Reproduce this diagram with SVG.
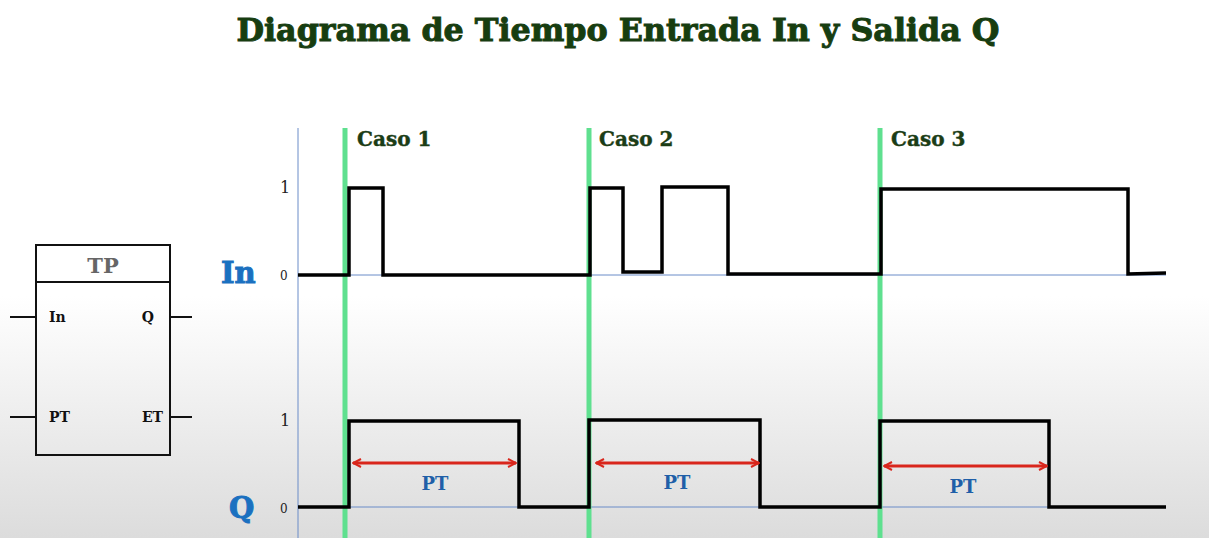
<svg xmlns="http://www.w3.org/2000/svg" width="1209" height="538" viewBox="0 0 1209 538">
<defs>
<linearGradient id="bg" x1="0" y1="0" x2="0" y2="538" gradientUnits="userSpaceOnUse">
<stop offset="0" stop-color="#ffffff"/>
<stop offset="0.55" stop-color="#ffffff"/>
<stop offset="1" stop-color="#dcdcdc"/>
</linearGradient>
<marker id="ah" viewBox="0 0 10 10" refX="9" refY="5" markerWidth="10" markerHeight="10" markerUnits="userSpaceOnUse" orient="auto-start-reverse">
<path d="M1,1 L9,5 L1,9" fill="none" stroke="#d9261c" stroke-width="2"/>
</marker>
<style>
.sig{fill:none;stroke:#000;stroke-width:3.5;stroke-linejoin:miter}
.base{stroke:#6a8cc8;stroke-width:1}
.green{stroke:#5fe08f;stroke-width:5}
.pt{stroke:#d9261c;stroke-width:3}
.serif{font-family:"DejaVu Serif","Liberation Serif",serif;font-weight:bold}
.caso{font-size:20px;fill:#1b3d16;stroke:#1b3d16;stroke-width:0.4}
.lvl{font-family:"DejaVu Serif","Liberation Serif",serif;fill:#222}
.ptl{font-size:18px;fill:#1f5fa8}
.big{font-size:29px;fill:#1a70c0;stroke:#1a70c0;stroke-width:1}
.pin{font-size:14px;fill:#111}
.box{fill:none;stroke:#111;stroke-width:2}
</style>
</defs>
<rect x="0" y="0" width="1209" height="538" fill="url(#bg)"/>
<text class="serif" x="618" y="41" text-anchor="middle" font-size="32" fill="#173d10" stroke="#173d10" stroke-width="1" textLength="763" lengthAdjust="spacingAndGlyphs">Diagrama de Tiempo Entrada In y Salida Q</text>

<g id="tp-block">
<rect class="box" x="36" y="245" width="134" height="210"/>
<line class="box" x1="36" y1="282" x2="170" y2="282"/>
<text class="serif" x="103" y="273" text-anchor="middle" font-size="21" fill="#666">TP</text>
<line class="box" x1="10" y1="317" x2="36" y2="317"/>
<line class="box" x1="170" y1="317" x2="192" y2="317"/>
<line class="box" x1="10" y1="417" x2="36" y2="417"/>
<line class="box" x1="170" y1="417" x2="192" y2="417"/>
<text class="serif pin" x="49" y="322">In</text>
<text class="serif pin" x="154" y="322" text-anchor="end">Q</text>
<text class="serif pin" x="49" y="422">PT</text>
<text class="serif pin" x="163" y="422" text-anchor="end">ET</text>
</g>

<g id="axes">
<line class="base" x1="298" y1="128" x2="298" y2="538"/>
<line class="base" x1="298" y1="275" x2="1166" y2="275"/>
<line class="base" x1="298" y1="507" x2="1166" y2="507"/>
<text class="serif big" x="221" y="283">In</text>
<text class="serif big" x="229" y="518">Q</text>
<text class="lvl" x="280" y="193" font-size="16">1</text>
<text class="lvl" x="280" y="280" font-size="12">0</text>
<text class="lvl" x="280" y="426" font-size="16">1</text>
<text class="lvl" x="280" y="513" font-size="12">0</text>
</g>

<g id="cases">
<line class="green" x1="345" y1="128" x2="345" y2="538"/>
<line class="green" x1="589" y1="128" x2="589" y2="538"/>
<line class="green" x1="880" y1="128" x2="880" y2="538"/>
<text class="serif caso" x="357" y="146">Caso 1</text>
<text class="serif caso" x="599" y="146">Caso 2</text>
<text class="serif caso" x="891" y="146">Caso 3</text>
</g>

<g id="signal-in">
<path class="sig" d="M298,275 H349 V188 H383 V275 H590 V188 H623 V272 H662 V187 H728 V274 H881 V189 H1128 V274 L1166,273"/>
</g>

<g id="signal-q">
<path class="sig" d="M298,507 H349 V421 H519 V507 H589 V420 H760 V507 H880 V421 H1049 V507 H1166"/>
</g>

<g id="connectors">
<line class="pt" x1="353" y1="463" x2="516" y2="463" marker-start="url(#ah)" marker-end="url(#ah)"/>
<line class="pt" x1="596" y1="463" x2="759" y2="463" marker-start="url(#ah)" marker-end="url(#ah)"/>
<line class="pt" x1="884" y1="466" x2="1047" y2="466" marker-start="url(#ah)" marker-end="url(#ah)"/>
<text class="serif ptl" x="435" y="490" text-anchor="middle">PT</text>
<text class="serif ptl" x="677" y="489" text-anchor="middle">PT</text>
<text class="serif ptl" x="963" y="493" text-anchor="middle">PT</text>
</g>
</svg>
